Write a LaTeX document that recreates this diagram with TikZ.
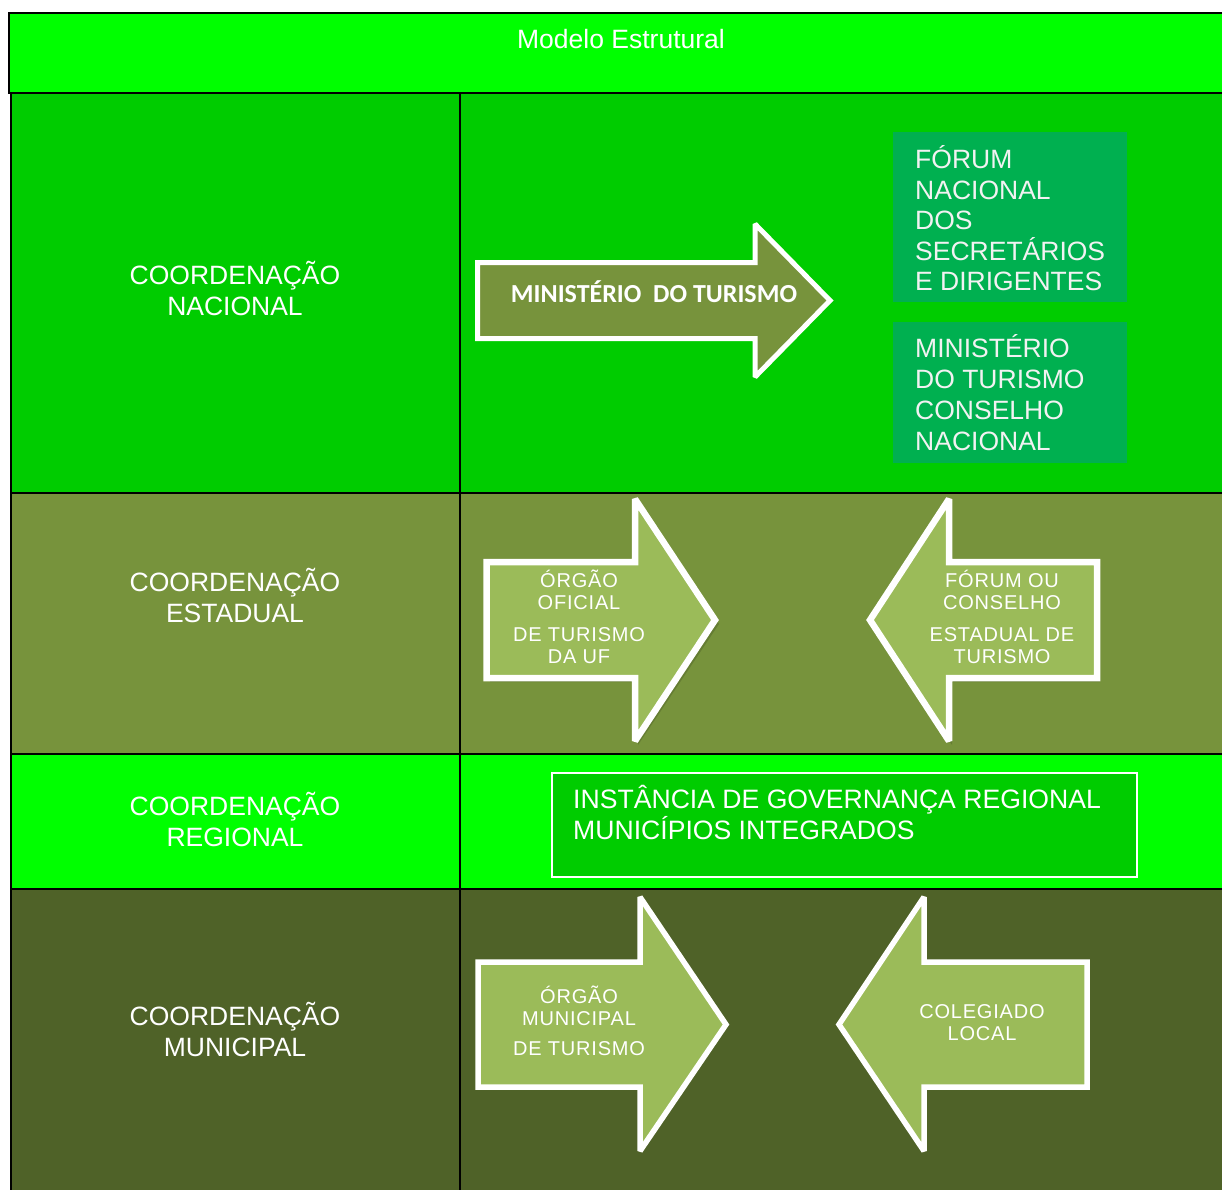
\documentclass[tikz,border=0pt]{standalone}
\usepackage{fontspec}
\setmainfont{Liberation Sans}
\newfontfamily\calib{Carlito}
\newfontfamily\spaced[LetterSpace=4]{Liberation Sans}
\definecolor{brightgreen}{HTML}{00FF00}
\definecolor{natgreen}{HTML}{00CC00}
\definecolor{olive}{HTML}{77933C}
\definecolor{darkolive}{HTML}{4F6228}
\definecolor{lightolive}{HTML}{9BBB59}
\definecolor{boxgreen}{HTML}{00B050}
\definecolor{offwhite}{HTML}{F2F2F2}
\tikzset{
  gridline/.style={draw=black, line width=2.4pt},
  rowlabel/.style={text=white, align=center, inner sep=0pt, font=\fontsize{26.5}{31}\selectfont},
  boxtext/.style={text=offwhite, align=left, inner sep=0pt, anchor=west},
  bigarrow/.style={draw=white, line width=5pt, fill=olive, line join=miter, miter limit=2},
  smallarrow/.style={draw=white, line width=6.5pt, fill=lightolive, line join=miter, miter limit=2},
  arrowshadow/.style={fill=black, opacity=0.15},
  arrowtext/.style={text=white, align=center, inner sep=0pt, font=\spaced\fontsize{20}{22}\selectfont},
}
\begin{document}
\begin{tikzpicture}[x=1pt,y=-1pt]
\useasboundingbox (0,0) rectangle (1222,1189);
\clip (0,0) rectangle (1222,1189);
\fill[white] (0,0) rectangle (1222,1189);
% rows
\fill[natgreen] (11,93) rectangle (1224,493);
\fill[olive] (11,493) rectangle (1224,754);
\fill[brightgreen] (11,754) rectangle (1224,889);
\fill[darkolive] (11,889) rectangle (1224,1192);
% title box
\draw[line width=2.4pt, fill=brightgreen] (9,13) rectangle (1226,93);
% grid lines
\draw[gridline] (11,93) -- (11,1192);
\draw[gridline] (460,93) -- (460,1192);
\draw[gridline] (11,493) -- (1224,493);
\draw[gridline] (11,754) -- (1224,754);
\draw[gridline] (11,889) -- (1224,889);
% title
\node[text=white, inner sep=0pt, font=\fontsize{26.5}{31}\selectfont] (title) at (621,39.5) {Modelo Estrutural};
% row labels
\node[rowlabel] (lnac) at (235,288.7) {COORDENAÇÃO\\NACIONAL};
\node[rowlabel] (lest) at (235,595.2) {COORDENAÇÃO\\ESTADUAL};
\node[rowlabel] (lreg) at (235,819.7) {COORDENAÇÃO\\REGIONAL};
\node[rowlabel] (lmun) at (235,1029.7) {COORDENAÇÃO\\MUNICIPAL};
% national arrow
\draw[bigarrow] (477.5,262.5) -- (755,262.5) -- (755,224) -- (830,300.5) -- (755,377) -- (755,338.5) -- (477.5,338.5) -- cycle;
\node[text=white, inner sep=0pt, font=\calib\bfseries\fontsize{26}{30}\selectfont] (mtur) at (654,292) {MINISTÉRIO\ \ DO TURISMO};
% national boxes
\fill[boxgreen] (893,132) rectangle (1127,301.5);
\fill[boxgreen] (893,322) rectangle (1127,463);
\node[boxtext, font=\fontsize{26.5}{30.5}\selectfont] (forum) at (915,218.2) {FÓRUM\\NACIONAL\\DOS\\SECRETÁRIOS\\E DIRIGENTES};
\node[boxtext, font=\fontsize{26.5}{31}\selectfont] (conselho) at (915,392.7) {MINISTÉRIO\\DO TURISMO\\CONSELHO\\NACIONAL};
% estadual arrows
\fill[arrowshadow] (490,566) -- (638,566) -- (638,503) -- (719,624) -- (638,745) -- (638,682) -- (490,682) -- cycle;
\draw[smallarrow] (486.5,562) -- (635,562) -- (635,499) -- (715,620) -- (635,741) -- (635,678) -- (486.5,678) -- cycle;
\fill[arrowshadow] (1100,566) -- (952,566) -- (952,503) -- (873,624) -- (952,745) -- (952,682) -- (1100,682) -- cycle;
\draw[smallarrow] (1097,562) -- (949,562) -- (949,499) -- (870,620) -- (949,741) -- (949,678) -- (1097,678) -- cycle;
\node[arrowtext] (orgaouf) at (579,616.9) {ÓRGÃO\\OFICIAL\\[10pt]DE TURISMO\\DA UF};
\node[arrowtext] (forumest) at (1002,616.9) {FÓRUM OU\\CONSELHO\\[10pt]ESTADUAL DE\\TURISMO};
% regional box
\draw[draw=white, line width=1.8pt, fill=natgreen] (552,773) rectangle (1137,877);
\node[boxtext, text=white, font=\fontsize{26.6}{31}\selectfont] (igr) at (573,812.7) {INSTÂNCIA DE GOVERNANÇA REGIONAL\\MUNICÍPIOS INTEGRADOS};
% municipal arrows
\draw[smallarrow, line width=5.5pt] (478,962) -- (640,962) -- (640,897) -- (726,1024.5) -- (640,1151) -- (640,1087) -- (478,1087) -- cycle;
\draw[smallarrow, line width=5.5pt] (1087,962) -- (924,962) -- (924,897) -- (839,1024.5) -- (924,1151) -- (924,1087) -- (1087,1087) -- cycle;
\node[arrowtext] (orgaomun) at (579,1020.9) {ÓRGÃO\\MUNICIPAL\\[8pt]DE TURISMO};
\node[arrowtext] (colegiado) at (982,1023) {COLEGIADO\\LOCAL};
\end{tikzpicture}
\end{document}
